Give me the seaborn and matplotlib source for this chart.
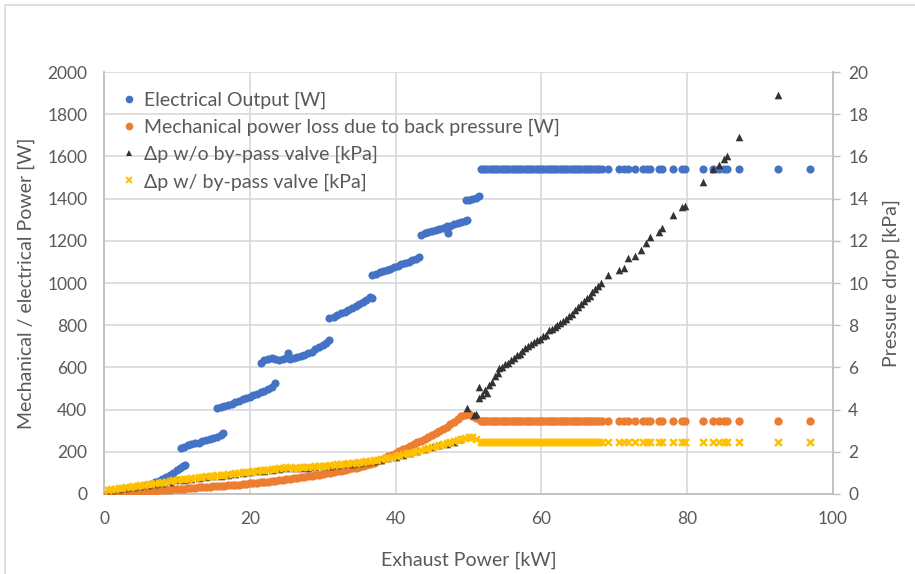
import matplotlib
matplotlib.use("Agg")
import matplotlib.pyplot as plt
import numpy as np
import pandas as pd
import seaborn as sns
from matplotlib.lines import Line2D
from matplotlib.patches import Rectangle

# ---------------- data ----------------
# x positions of the plateau region (shared by all series)
plateau_x = [51.7, 52.0, 52.3, 52.6, 52.9, 53.2, 53.5, 53.8, 54.1, 54.4, 54.7, 55.0,
             55.3, 55.6, 55.9, 56.2, 56.5, 56.8, 57.1, 57.4, 57.7, 58.0, 58.3, 58.6,
             58.9, 59.2, 59.5, 59.8, 60.1, 60.4, 60.7, 61.0, 61.3, 61.6, 61.9, 62.2,
             62.5, 62.8, 63.1, 63.4, 63.7, 64.0, 64.3, 64.6, 64.9, 65.2, 65.5, 65.8,
             66.1, 66.4, 66.7, 67.0, 67.3, 67.6, 67.9, 68.3, 69.2, 70.6, 71.3, 71.9,
             72.9, 74.0, 74.5, 74.9, 76.1, 76.5, 78.1, 79.3, 79.7, 82.2, 83.6, 84.3,
             85.0, 85.4, 87.1, 92.5, 96.8]
elec_plateau = 1540      # W, flat saturation level
mech_plateau = 347       # W
dp_bypass_plateau = 2.48 # kPa

# Electrical Output [W] (rising part, stepped)
elec_x = [0.5, 1, 1.5, 2, 2.5, 3, 3.5, 4, 4.5, 5, 5.5, 6, 6.5, 7, 7.5, 8, 8.5, 9, 9.5, 10, 10.4, 10.8, 11.1,
          10.5, 11, 11.5, 12, 12.5, 13, 13.5, 14, 14.5, 15, 15.5, 16, 16.3,
          15.5, 16, 16.5, 17, 17.5, 18, 18.5, 19, 19.5, 20, 20.5, 21, 21.5, 22, 22.5, 23, 23.4,
          21.6, 22, 22.5, 23, 23.5, 24, 24.5, 25, 25.2, 25.5, 26, 26.5, 27, 27.5, 28, 28.5, 29, 29.5, 30, 30.5, 30.9,
          30.9, 31.5, 32, 32.5, 33, 33.5, 34, 34.5, 35, 35.5, 36, 36.5, 36.8,
          36.8, 37.3, 37.8, 38.3, 38.8, 39.3, 39.8, 40.3, 40.8, 41.3, 41.8, 42.3, 42.8, 43.2,
          43.5, 44, 44.5, 45, 45.5, 46, 46.5, 47, 47.2, 47.5, 48, 48.5, 49, 49.5, 49.8,
          49.6, 50, 50.5, 51, 51.4]
elec_y = [2, 4, 6, 9, 12, 15, 19, 23, 27, 32, 37, 43, 49, 56, 63, 71, 80, 90, 100, 112, 122, 132, 138,
          218, 225, 230, 235, 240, 244, 249, 254, 260, 266, 272, 280, 288,
          408, 412, 417, 422, 428, 436, 442, 448, 455, 461, 468, 475, 482, 490, 498, 505, 527,
          620, 635, 642, 645, 640, 635, 638, 645, 668, 640, 645, 650, 655, 660, 668, 675, 685, 695, 705, 715, 728,
          832, 840, 848, 856, 864, 872, 880, 890, 900, 910, 920, 935, 930,
          1038, 1045, 1052, 1058, 1062, 1068, 1075, 1080, 1088, 1095, 1100, 1108, 1115, 1123,
          1228, 1235, 1240, 1245, 1250, 1256, 1262, 1268, 1238, 1272, 1278, 1284, 1290, 1295, 1300,
          1393, 1395, 1398, 1405, 1412]

# Mechanical power loss due to back pressure [W] (rising part)
mech_x = [0.5, 1, 1.5, 2, 2.5, 3, 3.5, 4, 4.5, 5, 5.5, 6, 6.5, 7, 7.5, 8, 8.5, 9, 9.5, 10,
          10.5, 11, 11.5, 12, 12.5, 13, 13.5, 14, 14.5, 15, 15.5, 16, 16.5, 17, 17.5, 18, 18.5, 19, 19.5, 20,
          20.5, 21, 21.5, 22, 22.5, 23, 23.5, 24, 24.5, 25, 25.5, 26, 26.5, 27, 27.5, 28, 28.5, 29, 29.5, 30,
          30.5, 31, 31.5, 32, 32.5, 33, 33.5, 34, 34.5, 35, 35.5, 36, 36.5, 37, 37.5, 38, 38.5, 39, 39.5, 40,
          40.5, 41, 41.5, 42, 42.5, 43, 43.5, 44, 44.5, 45, 45.5, 46, 46.5, 47, 47.5, 48, 48.5, 49, 49.5, 50,
          50.5, 51]
mech_y = [3, 3, 4, 5, 6, 7, 8, 9, 10, 11, 13, 14, 15, 16, 18, 19, 20, 21, 23, 24,
          25, 26, 28, 29, 30, 31, 33, 34, 35, 36, 38, 39, 40, 41, 43, 44, 45, 47, 48, 50,
          52, 53, 55, 57, 59, 61, 63, 65, 67, 69, 72, 74, 76, 79, 81, 84, 87, 89, 92, 95,
          98, 101, 104, 107, 110, 114, 117, 121, 125, 129, 133, 138, 143, 149, 155, 162, 170, 178, 186, 195,
          203, 211, 219, 228, 236, 245, 253, 262, 271, 280, 289, 298, 308, 318, 330, 342, 355, 368, 375, 378,
          372, 362]

# Δp w/o by-pass valve [kPa]
dp_nobp_x = [1, 2, 3, 4, 5, 6, 7, 8, 9, 10, 11, 12, 13, 14, 15, 16, 17, 18, 19, 20, 21, 22, 23, 24, 25,
             26, 27, 28, 29, 30, 31, 32, 33, 34, 35, 36, 37, 38, 39, 40, 41, 42, 43, 44, 45, 46, 47, 48,
             48.8, 49.8, 50.8, 51.0, 51.4, 51.4, 52.5, 51.8, 52.2, 52.8, 53.2, 53.7, 54.0, 54.2, 54.6, 55.0,
             55.4, 55.8, 56.2, 56.6, 57.0, 57.4, 57.8, 58.2, 58.6, 59.0, 59.4, 59.8, 60.2, 60.6, 61.0, 61.4,
             61.8, 62.2, 62.6, 63.0, 63.4, 63.8, 64.2, 64.6, 65.0, 65.4, 65.8, 66.2, 66.6, 67.0, 67.4, 67.8,
             68.2, 69.2, 70.6, 71.3, 71.9, 72.9, 73.7, 74.3, 74.9, 76.1, 76.5, 78.1, 79.3, 79.7, 82.2, 83.6,
             84.3, 85.0, 85.4, 87.1, 92.5]
dp_nobp_y = [0.18, 0.24, 0.29, 0.34, 0.39, 0.44, 0.49, 0.54, 0.59, 0.64, 0.68, 0.72, 0.76, 0.8, 0.84, 0.87,
             0.91, 0.95, 0.99, 1.03, 1.07, 1.11, 1.15, 1.19, 1.24, 1.21, 1.23, 1.25, 1.28, 1.31, 1.34, 1.37,
             1.4, 1.44, 1.48, 1.52, 1.57, 1.63, 1.69, 1.77, 1.85, 1.93, 2.02, 2.12, 2.21, 2.3, 2.39, 2.47,
             2.6, 4.07, 3.74, 3.8, 4.55, 5.07, 4.8, 4.7, 4.95, 5.15, 5.3, 5.6, 5.75, 5.95, 6.0, 6.15,
             6.2, 6.35, 6.45, 6.6, 6.65, 6.8, 6.9, 7.0, 7.1, 7.2, 7.3, 7.35, 7.5, 7.55, 7.75, 7.8,
             7.9, 8.0, 8.1, 8.2, 8.3, 8.45, 8.55, 8.7, 8.85, 9.0, 9.15, 9.3, 9.4, 9.55, 9.7, 9.85,
             10.0, 10.4, 10.6, 10.7, 11.2, 11.3, 11.56, 11.9, 12.2, 12.4, 12.6, 13.2, 13.6, 13.65, 14.8, 15.4,
             15.6, 15.9, 16.0, 16.9, 18.9]

# Δp w/ by-pass valve [kPa] (rising part)
dp_bp_x = mech_x
dp_bp_y = [0.2, 0.22, 0.24, 0.27, 0.29, 0.32, 0.34, 0.37, 0.39, 0.42, 0.44, 0.47, 0.49, 0.52, 0.54, 0.57,
           0.59, 0.62, 0.64, 0.67, 0.69, 0.71, 0.73, 0.75, 0.77, 0.79, 0.81, 0.83, 0.85, 0.87, 0.89, 0.9,
           0.92, 0.94, 0.96, 0.98, 1.0, 1.02, 1.04, 1.06, 1.08, 1.1, 1.12, 1.14, 1.16, 1.18, 1.2, 1.22,
           1.25, 1.3, 1.26, 1.24, 1.25, 1.26, 1.27, 1.28, 1.3, 1.31, 1.32, 1.34, 1.35, 1.37, 1.38, 1.4,
           1.42, 1.43, 1.45, 1.47, 1.49, 1.51, 1.53, 1.55, 1.57, 1.6, 1.63, 1.66, 1.69, 1.72, 1.76, 1.8,
           1.84, 1.88, 1.92, 1.96, 2.0, 2.05, 2.1, 2.15, 2.2, 2.24, 2.28, 2.33, 2.37, 2.42, 2.46, 2.5,
           2.55, 2.6, 2.65, 2.7, 2.72, 2.6]

labels = ["Electrical Output [W]",
          "Mechanical power loss due to back pressure [W]",
          "\u0394p w/o by-pass valve [kPa]",
          "\u0394p w/ by-pass valve [kPa]"]
x_label = "Exhaust Power [kW]"
y_label_left = "Mechanical / electrical Power [W]"
y_label_right = "Pressure drop [kPa]"

# ---------------- build tables ----------------
n_pl = len(plateau_x)
elec_df = pd.DataFrame({"x": elec_x + plateau_x, "y": elec_y + [elec_plateau] * n_pl})
mech_df = pd.DataFrame({"x": mech_x + plateau_x, "y": mech_y + [mech_plateau] * n_pl})
nobp_df = pd.DataFrame({"x": dp_nobp_x, "y": dp_nobp_y})
bp_df = pd.DataFrame({"x": dp_bp_x + plateau_x, "y": dp_bp_y + [dp_bypass_plateau] * n_pl})

# ---------------- style ----------------
sns.set_theme(style="white")
plt.rcParams['font.family'] = ['Lato', 'DejaVu Sans']

C_BLUE = "#4472C4"
C_ORANGE = "#ED7D31"
C_DARK = "#333333"
C_YELLOW = "#FFC000"
TXT = "#595959"
GRID = "#d9d9d9"
SPINE = "#bfbfbf"
FS_TICK = 12.5
FS = 14

W, H = 915, 574
fig = plt.figure(figsize=(W / 100, H / 100), dpi=100)
L, R, T, B = 104, 833, 72, 494
ax = fig.add_axes([L / W, 1 - B / H, (R - L) / W, (B - T) / H])
ax2 = ax.twinx()

sns.scatterplot(data=elec_df, x="x", y="y", ax=ax, color=C_BLUE, s=34,
                linewidth=0, marker="o", legend=False, zorder=3)
sns.scatterplot(data=mech_df, x="x", y="y", ax=ax, color=C_ORANGE, s=36,
                linewidth=0, marker="o", legend=False, zorder=4)
sns.scatterplot(data=nobp_df, x="x", y="y", ax=ax2, color=C_DARK, s=30,
                linewidth=0, marker="^", legend=False, zorder=3)
sns.scatterplot(data=bp_df, x="x", y="y", ax=ax2, color=C_YELLOW, s=24,
                linewidth=1.8, marker="x", legend=False, zorder=4)

ax.set_xlim(0, 100)
ax.set_ylim(0, 2000)
ax2.set_ylim(0, 20)
ax.set_xticks(np.arange(0, 101, 20))
ax.set_yticks(np.arange(0, 2001, 200))
ax2.set_yticks(np.arange(0, 21, 2))

ax.grid(True, color=GRID, linewidth=1.2)
ax.set_axisbelow(True)
ax2.grid(False)

for s in ["top", "right"]:
    ax.spines[s].set_visible(False)
for s in ["left", "bottom"]:
    ax.spines[s].set_color(SPINE)
    ax.spines[s].set_linewidth(1.3)
for s in ["top", "left", "bottom"]:
    ax2.spines[s].set_visible(False)
ax2.spines["right"].set_color(SPINE)
ax2.spines["right"].set_linewidth(1.3)

ax.tick_params(axis="x", length=0, pad=12, labelsize=FS_TICK, labelcolor=TXT)
ax.tick_params(axis="y", length=0, pad=12, labelsize=FS_TICK, labelcolor=TXT)
ax2.tick_params(axis="y", direction="out", length=5, width=1, color=SPINE,
                pad=6, labelsize=FS_TICK, labelcolor=TXT)

ax.set_xlabel(x_label, fontsize=FS, color=TXT, labelpad=18)
ax.set_ylabel(y_label_left, fontsize=FS, color=TXT, labelpad=9)
ax2.set_ylabel(y_label_right, fontsize=FS, color=TXT, labelpad=10, rotation=90)

handles = [
    Line2D([], [], linestyle="none", marker="o", markersize=5.5, color=C_BLUE, markeredgewidth=0),
    Line2D([], [], linestyle="none", marker="o", markersize=5.5, color=C_ORANGE, markeredgewidth=0),
    Line2D([], [], linestyle="none", marker="^", markersize=5, color=C_DARK, markeredgewidth=0),
    Line2D([], [], linestyle="none", marker="x", markersize=4, color=C_YELLOW, markeredgewidth=1.4),
]
leg = fig.legend(handles, labels, loc="upper left", bbox_to_anchor=(122 / W, 1 - 92 / H),
                 frameon=False, fontsize=FS, handlelength=0.7, handletextpad=0.45,
                 labelspacing=0.5, borderpad=0, borderaxespad=0)
for t in leg.get_texts():
    t.set_color(TXT)

# chart-area border
fig.patches.append(Rectangle((5 / W, -0.01), 1.0, 1 - 5 / H + 0.01, transform=fig.transFigure,
                             fill=False, edgecolor="#d9d9d9", linewidth=1.2))

fig.savefig("out.png", dpi=100)
